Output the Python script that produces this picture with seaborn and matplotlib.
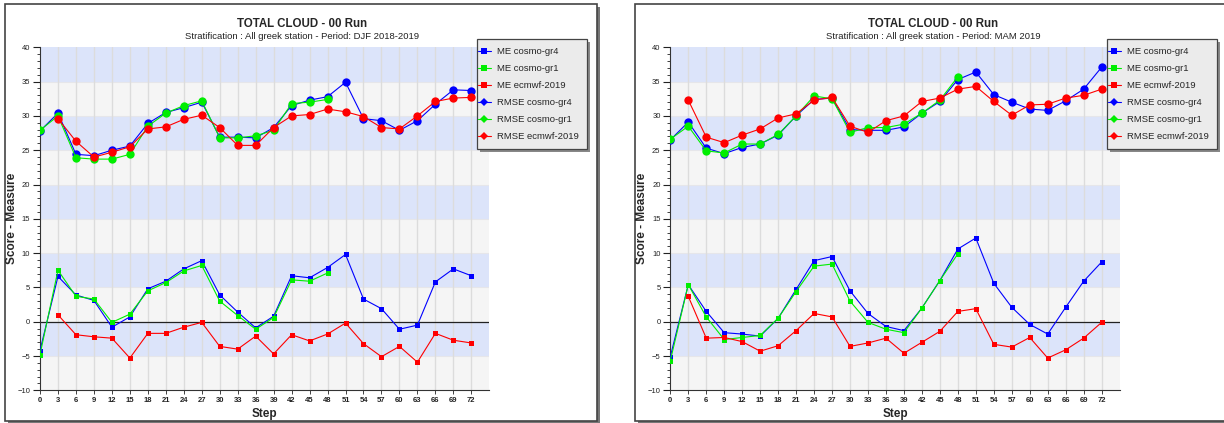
import matplotlib
matplotlib.use("Agg")
import matplotlib.pyplot as plt
from matplotlib.patches import Rectangle
from matplotlib.lines import Line2D
from matplotlib.ticker import MultipleLocator
import seaborn as sns

sns.set_style("white")
plt.rcParams['font.family'] = ['Liberation Sans', 'DejaVu Sans']

# ---------------- data ----------------
steps = [0, 3, 6, 9, 12, 15, 18, 21, 24, 27, 30, 33, 36, 39, 42, 45, 48, 51, 54, 57, 60, 63, 66, 69, 72]
steps_gr1 = steps[:17]          # 0 .. 48
steps_ec = steps[1:]            # 3 .. 72
xtick_labels = [str(s) for s in steps]

titles = ["TOTAL CLOUD - 00 Run", "TOTAL CLOUD - 00 Run"]
subtitles = ["Stratification : All greek station - Period: DJF 2018-2019",
             "Stratification : All greek station - Period: MAM 2019"]
series_names = ["ME cosmo-gr4", "ME cosmo-gr1", "ME ecmwf-2019",
                "RMSE cosmo-gr4", "RMSE cosmo-gr1", "RMSE ecmwf-2019"]

# DJF 2018-2019
djf_me_gr4 = [-4.2, 6.6, 3.9, 3.1, -0.8, 0.7, 4.8, 5.9, 7.7, 8.9, 3.9, 1.4, -0.9, 0.8, 6.7,
              6.4, 7.9, 9.8, 3.3, 1.9, -1.1, -0.5, 5.8, 7.7, 6.7]
djf_me_gr1 = [-4.8, 7.5, 3.7, 3.3, -0.1, 1.1, 4.5, 5.7, 7.4, 8.2, 3.0, 0.9, -1.1, 0.6, 6.1,
              5.9, 7.1]
djf_me_ec = [1.0, -1.9, -2.2, -2.4, -5.3, -1.7, -1.7, -0.8, -0.1, -3.6, -4.0, -2.1, -4.7, -1.9,
             -2.8, -1.8, -0.2, -3.2, -5.1, -3.6, -5.9, -1.7, -2.7, -3.1]
djf_rmse_gr4 = [27.8, 30.4, 24.4, 24.2, 25.0, 25.6, 28.9, 30.5, 31.2, 32.0, 26.9, 26.9, 26.8,
                28.3, 31.5, 32.3, 32.8, 34.9, 29.6, 29.3, 27.9, 29.3, 31.7, 33.8, 33.7]
djf_rmse_gr1 = [27.9, 30.0, 23.9, 23.7, 23.7, 24.4, 28.5, 30.4, 31.5, 32.2, 26.8, 26.8, 27.1,
                27.9, 31.8, 32.0, 32.4]
djf_rmse_ec = [29.6, 26.3, 24.0, 24.7, 25.5, 28.1, 28.4, 29.5, 30.1, 28.3, 25.7, 25.7, 28.3,
               30.0, 30.2, 31.0, 30.6, 29.9, 28.3, 28.1, 30.0, 32.1, 32.6, 32.7]

# MAM 2019
mam_me_gr4 = [-5.1, 5.4, 1.5, -1.6, -1.8, -2.1, 0.5, 4.7, 8.9, 9.5, 4.5, 1.2, -0.7, -1.3, 2.0,
              6.0, 10.6, 12.2, 5.6, 2.1, -0.4, -1.8, 2.1, 5.9, 8.7]
mam_me_gr1 = [-5.7, 5.4, 0.7, -2.6, -2.3, -2.0, 0.5, 4.4, 8.1, 8.4, 3.0, -0.1, -1.1, -1.6, 2.0,
              6.0, 9.9]
mam_me_ec = [3.7, -2.4, -2.3, -2.9, -4.3, -3.5, -1.3, 1.2, 0.7, -3.6, -3.1, -2.4, -4.6, -3.0,
             -1.4, 1.5, 1.9, -3.3, -3.7, -2.3, -5.3, -4.1, -2.4, -0.1]
mam_rmse_gr4 = [26.5, 29.1, 25.3, 24.5, 25.4, 25.9, 27.2, 30.0, 32.4, 32.6, 28.0, 27.9, 27.9,
                28.4, 30.4, 32.1, 35.3, 36.4, 33.1, 32.0, 31.0, 30.8, 32.2, 33.9, 37.1]
mam_rmse_gr1 = [26.6, 28.5, 24.9, 24.6, 25.9, 25.9, 27.3, 30.0, 32.9, 32.5, 27.6, 28.3, 28.3,
                28.8, 30.4, 32.3, 35.7]
mam_rmse_ec = [32.3, 26.9, 26.1, 27.2, 28.1, 29.7, 30.3, 32.3, 32.7, 28.5, 27.6, 29.3, 30.0,
               32.1, 32.6, 33.9, 34.3, 32.1, 30.1, 31.6, 31.7, 32.6, 33.0, 33.9]

panels = [
    [djf_me_gr4, djf_me_gr1, djf_me_ec, djf_rmse_gr4, djf_rmse_gr1, djf_rmse_ec],
    [mam_me_gr4, mam_me_gr1, mam_me_ec, mam_rmse_gr4, mam_rmse_gr1, mam_rmse_ec],
]
series_steps = [steps, steps_gr1, steps_ec, steps, steps_gr1, steps_ec]
series_colors = ["#0000ff", "#00ee00", "#ff0000", "#0000ff", "#00ee00", "#ff0000"]
series_markers = ["s", "s", "s", "o", "o", "o"]

# ---------------- layout ----------------
W, H = 1224, 423
fig = plt.figure(figsize=(W / 100, H / 100), dpi=100)
fig.patch.set_facecolor("white")

def fx(px):
    return px / W

def fy(py):
    return 1 - py / H

frame_left = [5, 635]
frame_right = [597, 1230]
title_cx = [302, 933]
ax_left = [40, 670.3]
ax_w = 449.3
ax_top, ax_bot = 47.3, 390.3
leg_left = [476.7, 1106.7]
leg_w, leg_top, leg_bot = 110.0, 39.0, 149.0

band_blue = "#dce4fa"
band_grey = "#f5f5f5"

def fig_rect(x0, y0, x1, y1, **kw):
    r = Rectangle((fx(x0), fy(y1)), fx(x1 - x0), fy(y0) - fy(y1),
                  transform=fig.transFigure, **kw)
    fig.patches.append(r)
    return r

for p in range(2):
    # outer frame with shadow
    fl, fr = frame_left[p], frame_right[p]
    fig_rect(fl + 3, 7, fr + 3, 424, facecolor="#777777", edgecolor="none", zorder=-2)
    fig_rect(fl, 4, fr, 421, facecolor="white", edgecolor="#444444", lw=1.2, zorder=-1)

    ax = fig.add_axes([fx(ax_left[p]), fy(ax_bot), fx(ax_w), fy(ax_top) - fy(ax_bot)])
    ax.set_zorder(1)
    ax.set_xlim(0, 75)
    ax.set_ylim(-10, 40)
    ax.set_facecolor(band_grey)
    for y0 in range(-10, 40, 5):
        if ((y0 + 10) // 5) % 2 == 1:
            ax.axhspan(y0, y0 + 5, color=band_blue, zorder=0, lw=0)
    for y0 in range(-5, 40, 5):
        ax.axhline(y0, color="#e6e6ea", lw=0.8, zorder=0.5)
    for s in steps[1:]:
        ax.axvline(s, color="#dcdcdc", lw=1.0, zorder=0.6)
    ax.axhline(0, color="#222222", lw=0.9, zorder=1)

    data = panels[p]
    for i in range(6):
        is_me = i < 3
        sns.lineplot(x=series_steps[i], y=data[i], ax=ax, color=series_colors[i],
                     marker=series_markers[i], markersize=3.6 if is_me else 6.0,
                     markeredgewidth=0, linewidth=0.8, zorder=3 + i, legend=False)

    ax.set_xticks(steps)
    ax.set_xticklabels(xtick_labels, fontsize=5.5, fontweight="bold", color="#222222")
    ax.yaxis.set_major_locator(MultipleLocator(5))
    ax.yaxis.set_minor_locator(MultipleLocator(1))
    ax.tick_params(axis="y", which="major", length=5, width=0.8, labelsize=5.5,
                   colors="#222222", pad=2)
    ax.tick_params(axis="y", which="minor", length=2.5, width=0.6, colors="#222222")
    ax.tick_params(axis="x", which="major", length=3, width=0.6, pad=2, colors="#222222")
    ax.tick_params(left=True, bottom=True)
    ax.tick_params(axis="y", which="minor", left=True)
    for side in ["top", "right"]:
        ax.spines[side].set_visible(False)
    for side in ["left", "bottom"]:
        ax.spines[side].set_color("#333333")
        ax.spines[side].set_linewidth(0.8)
    ax.set_xlabel("Step", fontsize=8.5, fontweight="bold")
    ax.set_ylabel("Score - Measure", fontsize=8.5, fontweight="bold")
    ax.yaxis.set_label_coords((18 - 40) / ax_w, 0.5)
    ax.xaxis.set_label_coords(0.5, -(408 - ax_bot) / (ax_bot - ax_top))

    fig.text(fx(title_cx[p]), fy(24), titles[p], ha="center", va="center",
             fontsize=8.3, fontweight="bold")
    fig.text(fx(title_cx[p]), fy(36.5), subtitles[p], ha="center", va="center",
             fontsize=6.8, color="#222222")

    # legend box with shadow
    lx = leg_left[p]
    fig_rect(lx + 3, leg_top + 3, lx + leg_w + 3, leg_bot + 3, facecolor="#888888",
             edgecolor="none", zorder=8)
    fig_rect(lx, leg_top, lx + leg_w, leg_bot, facecolor="#ebebeb", edgecolor="#444444",
             lw=0.9, zorder=9)
    handles = [Line2D([0], [0], color=series_colors[i],
                      marker=series_markers[i] if i < 3 else "D",
                      markersize=4.5 if i < 3 else 4.0, markeredgewidth=0, lw=0.8)
               for i in range(6)]
    leg = fig.legend(handles, series_names, loc="upper left",
                     bbox_to_anchor=(fx(lx + 1.0), fy(47.5)),
                     bbox_transform=fig.transFigure, fontsize=6.8, frameon=False,
                     borderpad=0, labelspacing=0.84, handlelength=1.38,
                     handletextpad=0.64, borderaxespad=0)
    leg.set_zorder(10)

fig.savefig("out.png", dpi=100, facecolor="white")
